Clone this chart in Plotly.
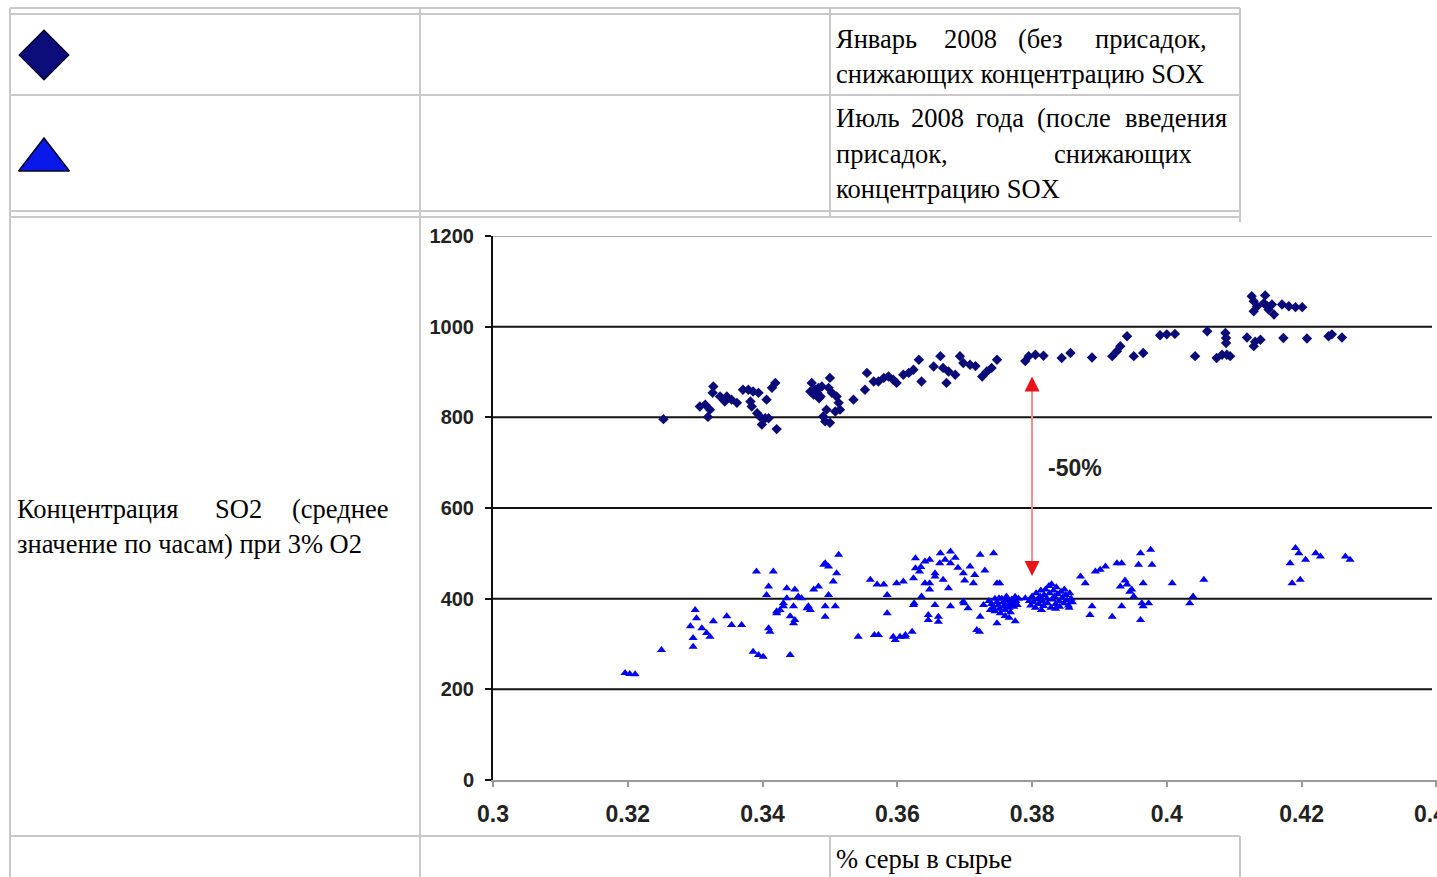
import plotly.graph_objects as go

W, H = 1437, 877

# ---------------- data ----------------
# January 2008: sulphur in feed (%) vs SO2 (hourly mean, 3% O2)
jan_sulfur = [
    0.3253,
    0.3307, 0.3315, 0.3322, 0.3319, 0.3327, 0.3326, 0.3337, 0.3344, 0.3347, 0.3354,
    0.3362, 0.3371, 0.3379, 0.3386, 0.3394, 0.3382, 0.3384, 0.3392, 0.3396, 0.3404,
    0.3399, 0.3406, 0.3414, 0.3419, 0.3421, 0.3409,
    0.3473, 0.3471, 0.3478, 0.3481, 0.3486, 0.3483, 0.3488, 0.3500, 0.3498, 0.3503,
    0.3510, 0.3513, 0.3515, 0.3495, 0.3490, 0.3493, 0.3500, 0.3508, 0.3476, 0.3484,
    0.3535, 0.3552, 0.3555, 0.3565, 0.3572, 0.3580, 0.3587, 0.3594, 0.3599, 0.3609,
    0.3617, 0.3624, 0.3632, 0.3636, 0.3654, 0.3664, 0.3668, 0.3676, 0.3673, 0.3686,
    0.3693, 0.3698, 0.3708, 0.3716, 0.3726, 0.3733, 0.3740, 0.3748,
    0.3790, 0.3795, 0.3805, 0.3817, 0.3844, 0.3857, 0.3889, 0.3919, 0.3926, 0.3931,
    0.3941, 0.3951, 0.3965, 0.3990, 0.4000, 0.4012, 0.4042, 0.4060, 0.4074, 0.4082,
    0.4089, 0.4094, 0.4087, 0.4088, 0.4088, 0.4119, 0.4129, 0.4131, 0.4139, 0.4173,
    0.4208, 0.4240, 0.4245, 0.4260,
    0.4126, 0.4129, 0.4134, 0.4129, 0.4146, 0.4144, 0.4149, 0.4151, 0.4159, 0.4156,
    0.4171, 0.4181, 0.4191, 0.4201,
]
jan_so2 = [
    796,
    824, 828, 817, 801, 868, 854, 846, 835, 846, 839,
    832, 861, 861, 857, 854, 835, 824, 809, 802, 798,
    784, 839, 865, 876, 774, 798,
    876, 857, 861, 854, 846, 865, 868, 887, 865, 854,
    846, 832, 817, 817, 802, 791, 788, 813, 850, 842,
    839, 861, 898, 879, 879, 887, 890, 883, 876, 894,
    898, 905, 927, 879, 912, 935, 909, 901, 876, 894,
    935, 920, 916, 913, 890, 901, 909, 927,
    924, 935, 938, 936, 931, 942, 932, 935, 946, 957,
    979, 935, 942, 981, 983, 984, 935, 990, 931, 938,
    938, 935, 986, 975, 964, 976, 957, 967, 971, 975,
    974, 979, 983, 976,
    1067, 1056, 1045, 1034, 1069, 1052, 1045, 1038, 1027, 1049,
    1049, 1045, 1043, 1043,
]

# July 2008: after SOx-reducing additives
jul_sulfur = [
    0.3196, 0.3203, 0.3211, 0.3250,
    0.3300, 0.3302, 0.3293, 0.3297, 0.3297, 0.3310, 0.3317, 0.3322, 0.3327,
    0.3347, 0.3354, 0.3369, 0.3386, 0.3394, 0.3401,
    0.3391, 0.3416, 0.3409, 0.3406, 0.3411, 0.3409, 0.3441,
    0.3421, 0.3426, 0.3431, 0.3436, 0.3446, 0.3448, 0.3448, 0.3458, 0.3466, 0.3471,
    0.3476, 0.3483, 0.3491, 0.3498, 0.3513, 0.3510, 0.3505, 0.3498, 0.3493, 0.3493,
    0.3508, 0.3421, 0.3431, 0.3441, 0.3446, 0.3436, 0.3453, 0.3468, 0.3493,
    0.3542, 0.3560, 0.3566, 0.3572, 0.3570, 0.3580, 0.3585, 0.3585, 0.3594, 0.3597,
    0.3604, 0.3612, 0.3622, 0.3599, 0.3609, 0.3624, 0.3624, 0.3627, 0.3627, 0.3633,
    0.3641, 0.3648, 0.3656, 0.3663, 0.3641, 0.3636, 0.3648, 0.3648, 0.3656, 0.3664,
    0.3671, 0.3679, 0.3668, 0.3676, 0.3698, 0.3708, 0.3723, 0.3743, 0.3713, 0.3656,
    0.3646, 0.3646, 0.3679, 0.3698, 0.3705, 0.3718, 0.3723, 0.3728, 0.3738, 0.3748,
    0.3748, 0.3751, 0.3625, 0.3661, 0.3661, 0.3612, 0.3722, 0.3775, 0.3699, 0.3752,
    0.3635, 0.3690, 0.3700, 0.3715, 0.3730, 0.3686, 0.3679,
    0.3736, 0.3740, 0.3742, 0.3745, 0.3745, 0.3748, 0.3750, 0.3752, 0.3753, 0.3755,
    0.3757, 0.3758, 0.3760, 0.3762, 0.3763, 0.3765, 0.3766, 0.3768, 0.3770, 0.3771,
    0.3773, 0.3775, 0.3776, 0.3778, 0.3760, 0.3766, 0.3780,
    0.3790, 0.3796, 0.3798, 0.3800, 0.3802, 0.3805, 0.3806, 0.3808, 0.3810, 0.3812,
    0.3813, 0.3815, 0.3817, 0.3818, 0.3820, 0.3822, 0.3823, 0.3825, 0.3826, 0.3828,
    0.3829, 0.3830, 0.3832, 0.3833, 0.3835, 0.3836, 0.3838, 0.3840, 0.3841, 0.3843,
    0.3845, 0.3847, 0.3848, 0.3850, 0.3852, 0.3854, 0.3856, 0.3858, 0.3860, 0.3814,
    0.3835, 0.3855,
    0.3872, 0.3879, 0.3894, 0.3901, 0.3909, 0.3926, 0.3933, 0.3961, 0.3976, 0.3958,
    0.3978, 0.3931, 0.3941, 0.3948, 0.3951, 0.3965, 0.4008, 0.4055, 0.3963, 0.3973,
    0.3965, 0.4039, 0.4034, 0.3889, 0.3886, 0.3919, 0.3933, 0.3961, 0.3938, 0.3945,
    0.4191, 0.4196, 0.4206, 0.4221, 0.4228, 0.4265, 0.4272, 0.4183, 0.4186, 0.4198,
]
jul_so2 = [
    236, 234, 233, 287,
    375, 357, 339, 313, 294, 335, 324, 316, 350,
    361, 342, 342, 283, 276, 272,
    460, 460, 427, 408, 327, 335, 276,
    368, 375, 390, 401, 383, 353, 420, 401, 379, 375,
    420, 427, 475, 471, 497, 456, 438, 408, 383, 360,
    383, 372, 383, 361, 346, 423, 405, 383, 478,
    316, 442, 320, 320, 431, 431, 408, 368, 316, 309,
    316, 320, 327, 434, 438, 445, 386, 489, 467, 460,
    482, 486, 456, 478, 434, 405, 434, 420, 449, 500,
    486, 478, 442, 423, 456, 471, 497, 500, 434, 386,
    364, 353, 383, 394, 379, 331, 360, 386, 375, 346,
    434, 401, 390, 360, 349, 316, 327, 350, 390, 434,
    470, 468, 440, 452, 462, 490, 504,
    395, 388, 380, 372, 400, 392, 385, 378, 368, 400,
    392, 383, 375, 405, 396, 388, 380, 370, 398, 390,
    382, 404, 395, 386, 362, 358, 400,
    401, 395, 385, 405, 392, 380, 412, 398, 388, 405,
    418, 395, 384, 408, 420, 400, 390, 428, 412, 380,
    432, 398, 418, 405, 388, 425, 410, 395, 382, 415,
    402, 390, 420, 408, 396, 385, 412, 400, 392, 375,
    378, 380,
    449, 434, 460, 464, 471, 478, 478, 500, 508, 475,
    475, 427, 431, 420, 405, 434, 434, 442, 390, 390,
    383, 405, 390, 383, 364, 360, 383, 353, 440, 415,
    512, 500, 486, 500, 493, 493, 486, 478, 434, 442,
]

y_ticks = [0, 200, 400, 600, 800, 1000, 1200]
x_ticks = [0.30, 0.32, 0.34, 0.36, 0.38, 0.40, 0.42, 0.44]
x_tick_text = ["0.3", "0.32", "0.34", "0.36", "0.38", "0.4", "0.42", "0.44"]

# double arrow marking the drop between the two periods
arrow_x = 0.38
arrow_top = 890
arrow_bottom = 450
drop_label = "-50%"
drop_label_pos = (0.3864, 689)

jan_caption = ["Январь", "2008", "(без", "присадок,"]
jan_caption_2 = "снижающих концентрацию SOX"
jul_caption = ["Июль", "2008", "года", "(после", "введения"]
jul_caption_2 = ["присадок,", "снижающих"]
jul_caption_3 = "концентрацию SOX"
y_title = ["Концентрация", "SO2", "(среднее"]
y_title_2 = "значение по часам) при 3% O2"
x_title = "% серы в сырье"

# ---------------- page geometry helpers ----------------
def px(x):
    return x / W


def py(y):
    return 1 - y / H


X_LEFT, X_RIGHT_PX = 493, W
Y_ZERO_PX, Y_TOP_PX = 780, 236
PX_PER_UNIT_X = 6738.0
x_range = [0.30, 0.30 + (X_RIGHT_PX - X_LEFT) / PX_PER_UNIT_X]

fig = go.Figure()

# scatter series
fig.add_trace(go.Scatter(
    x=jan_sulfur, y=jan_so2, mode="markers", name="Январь 2008",
    marker=dict(symbol="diamond", size=8, color="#0b0b78"),
    xaxis="x", yaxis="y", showlegend=False,
))
fig.add_trace(go.Scatter(
    x=jul_sulfur, y=jul_so2, mode="markers", name="Июль 2008",
    marker=dict(symbol="triangle-up", size=8, color="#0000f0"),
    xaxis="x", yaxis="y", showlegend=False,
))

# the -50% arrow: light shaft with solid red heads
fig.add_trace(go.Scatter(
    x=[arrow_x, arrow_x], y=[arrow_bottom + 20, arrow_top - 20], mode="lines",
    line=dict(color="#f28c8c", width=2), xaxis="x", yaxis="y",
    showlegend=False, hoverinfo="skip",
))
fig.add_trace(go.Scatter(
    x=[arrow_x, arrow_x], y=[arrow_top, arrow_bottom], mode="markers",
    marker=dict(symbol=["arrow-up", "arrow-down"], size=15, color="#e8141c",
                line=dict(width=0)),
    xaxis="x", yaxis="y", showlegend=False, hoverinfo="skip",
))

# legend glyphs drawn in the first column of the table (pixel overlay axes)
fig.add_trace(go.Scatter(
    x=[44], y=[55], mode="markers", xaxis="x2", yaxis="y2",
    marker=dict(symbol="diamond", size=38, color="#0c0c7a",
                line=dict(color="#05052a", width=1.5)),
    showlegend=False, hoverinfo="skip",
))
fig.add_trace(go.Scatter(
    x=[44], y=[160], mode="markers", xaxis="x2", yaxis="y2",
    marker=dict(symbol="triangle-up", size=44, color="#0a18e8",
                line=dict(color="#050520", width=1.5)),
    showlegend=False, hoverinfo="skip",
))

shapes = []

# horizontal grid lines across the plot area
for v in y_ticks[1:]:
    shapes.append(dict(
        type="line", xref="paper", yref="y", x0=px(X_LEFT), x1=px(1432), y0=v, y1=v,
        line=dict(color="#a8a8a8" if v == y_ticks[-1] else "#111111", width=2),
        layer="below",
    ))

# table rules
GRID = "#c9c9c9"


def hline(y, x0, x1):
    shapes.append(dict(type="line", xref="paper", yref="paper",
                       x0=px(x0), x1=px(x1), y0=py(y), y1=py(y),
                       line=dict(color=GRID, width=2)))


def vline(x, y0, y1):
    shapes.append(dict(type="line", xref="paper", yref="paper",
                       x0=px(x), x1=px(x), y0=py(y0), y1=py(y1),
                       line=dict(color=GRID, width=2)))


for yy in (8, 14, 95, 211, 217, 836):
    hline(yy, 10, 1240)
vline(10, 8, H)
vline(420, 8, H)
vline(830, 8, 217)
vline(830, 836, H)
vline(1240, 8, 222)
vline(1240, 836, H)

annotations = []
SERIF = "Liberation Serif"
FS = 26.5


def text(s, x, baseline, anchor="left", size=FS):
    annotations.append(dict(
        text=s, x=px(x), y=py(baseline - 0.34 * size), xref="paper", yref="paper",
        xanchor=anchor, yanchor="middle", showarrow=False, borderpad=0,
        font=dict(family=SERIF, size=size, color="#000000"),
    ))


def justified(words, starts, baseline, right_edge):
    # first words left-aligned at their slots, the last one flush right
    for word, x in zip(words[:-1], starts):
        text(word, x, baseline)
    text(words[-1], right_edge, baseline, "right")


# legend captions
justified(jan_caption, [835, 943, 1017], 48, 1208)
text(jan_caption_2, 835, 83)
justified(jul_caption, [835, 910, 975, 1036], 127, 1228)
for word, x in zip(jul_caption_2, [835, 1053]):
    text(word, x, 163)
text(jul_caption_3, 835, 198)

# axis captions
justified(y_title, [16, 214], 518, 389)
text(y_title_2, 16, 553)
text(x_title, 835, 868)

# -50% label
annotations.append(dict(
    text=drop_label, x=drop_label_pos[0], y=drop_label_pos[1], xref="x", yref="y",
    xanchor="center", yanchor="middle", showarrow=False,
    font=dict(family="Liberation Sans", size=23, color="#222222", weight="bold"),
))

fig.update_layout(
    width=W, height=H,
    margin=dict(l=0, r=0, t=0, b=0, pad=0, autoexpand=False),
    paper_bgcolor="white",
    plot_bgcolor="rgba(0,0,0,0)",
    showlegend=False,
    shapes=shapes,
    annotations=annotations,
    xaxis=dict(
        domain=[px(X_LEFT), 1.0], range=x_range, anchor="y", automargin=False,
        tickmode="array", tickvals=x_ticks, ticktext=x_tick_text,
        ticks="outside", ticklen=5, tickwidth=1.5, tickcolor="#9a9a9a",
        showline=True, linecolor="#9a9a9a", linewidth=2,
        showgrid=False, zeroline=False, ticklabelstandoff=7,
        ticklabeloverflow="allow",
        tickfont=dict(family="Liberation Sans", size=23, color="#222222", weight="bold"),
    ),
    yaxis=dict(
        domain=[py(Y_ZERO_PX), py(Y_TOP_PX)], range=[0, 1200], anchor="x", automargin=False,
        tickmode="array", tickvals=y_ticks,
        ticks="outside", ticklen=6, tickwidth=2, tickcolor="#111111",
        showline=True, linecolor="#111111", linewidth=2,
        showgrid=False, zeroline=False, ticklabelstandoff=7,
        tickfont=dict(family="Liberation Sans", size=20, color="#222222", weight="bold"),
    ),
    xaxis2=dict(domain=[0, 1], range=[0, W], visible=False, anchor="y2",
                fixedrange=True, automargin=False),
    yaxis2=dict(domain=[0, 1], range=[H, 0], visible=False, anchor="x2",
                fixedrange=True, automargin=False),
)

fig.write_html(
    "out.html",
    config={"displayModeBar": False},
    post_script="document.body.style.margin='0';document.body.style.overflow='hidden';",
)
